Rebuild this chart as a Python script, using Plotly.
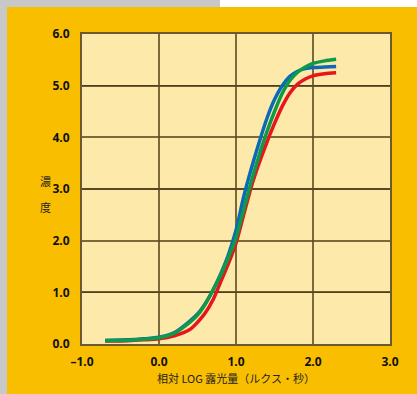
import plotly.graph_objects as go

# Data
blue_x = [-0.7, -0.4, -0.2, 0.0, 0.2, 0.35, 0.5, 0.6, 0.7, 0.8, 0.9, 1.0, 1.1, 1.2, 1.3, 1.4, 1.5, 1.6, 1.7, 1.8, 1.9, 2.0, 2.15, 2.3]
blue_y = [0.07, 0.08, 0.10, 0.13, 0.22, 0.38, 0.58, 0.78, 1.04, 1.35, 1.72, 2.2, 2.85, 3.4, 3.9, 4.36, 4.73, 5.0, 5.18, 5.28, 5.33, 5.35, 5.36, 5.37]

green_x = [-0.7, -0.4, -0.2, 0.0, 0.2, 0.35, 0.5, 0.6, 0.7, 0.8, 0.9, 1.0, 1.1, 1.2, 1.3, 1.4, 1.5, 1.6, 1.7, 1.8, 1.9, 2.0, 2.15, 2.3]
green_y = [0.07, 0.075, 0.09, 0.12, 0.21, 0.36, 0.56, 0.77, 1.04, 1.33, 1.67, 2.05, 2.6, 3.15, 3.65, 4.1, 4.5, 4.85, 5.1, 5.26, 5.36, 5.43, 5.48, 5.51]

red_x = [-0.7, -0.4, -0.2, 0.0, 0.2, 0.4, 0.5, 0.6, 0.7, 0.8, 0.9, 1.0, 1.1, 1.2, 1.3, 1.4, 1.5, 1.6, 1.7, 1.8, 1.9, 2.0, 2.15, 2.3]
red_y = [0.06, 0.065, 0.08, 0.10, 0.16, 0.28, 0.42, 0.6, 0.85, 1.2, 1.55, 1.95, 2.5, 3.05, 3.5, 3.9, 4.27, 4.6, 4.86, 5.03, 5.13, 5.19, 5.23, 5.25]

x_ticks = [-1.0, 0.0, 1.0, 2.0, 3.0]
x_labels = ["\u20131.0", "0.0", "1.0", "2.0", "3.0"]
y_ticks = [0, 1, 2, 3, 4, 5, 6]
y_labels = ["0.0", "1.0", "2.0", "3.0", "4.0", "5.0", "6.0"]
dark_grid_y = [1, 3, 5]

W, H = 417, 394
L, R, T, B = 82, 27, 34, 50
pw, ph = W - L - R, H - T - B

def px(xp):
    return (xp - L) / pw

def py(yp):
    return (H - B - yp) / ph

fig = go.Figure()
for xs, ys, col in [(red_x, red_y, "#e8141e"), (blue_x, blue_y, "#0a6ab8"), (green_x, green_y, "#0f9a48")]:
    fig.add_trace(go.Scatter(x=xs, y=ys, mode="lines",
                             line=dict(color=col, width=3.5, shape="spline", smoothing=0.7),
                             hoverinfo="skip", showlegend=False))

shapes = [
    dict(type="rect", xref="paper", yref="paper", x0=px(7), x1=px(W + 5), y0=py(7), y1=py(H + 5),
         fillcolor="#f9be00", line=dict(width=0), layer="below"),
    dict(type="rect", xref="paper", yref="paper", x0=px(220), x1=px(W + 5), y0=py(-5), y1=py(7),
         fillcolor="#ffffff", line=dict(width=0), layer="below"),
    dict(type="rect", xref="paper", yref="paper", x0=0, x1=1, y0=0, y1=1,
         fillcolor="#fde9a9", line=dict(width=0), layer="below"),
]
for gy in dark_grid_y:
    shapes.append(dict(type="line", xref="paper", yref="y", x0=0, x1=1, y0=gy, y1=gy,
                       line=dict(color="#1e1a10", width=1.3), layer="below"))

tickfont = dict(size=12, family="Open Sans", color="#111", weight="bold")

fig.update_layout(
    width=W, height=H,
    margin=dict(l=L, r=R, t=T, b=B),
    paper_bgcolor="#c8c8c8",
    plot_bgcolor="#fde9a9",
    shapes=shapes,
    font=dict(family="Open Sans, Noto Sans CJK JP, sans-serif", color="#111"),
    xaxis=dict(range=[-1, 3], tickvals=x_ticks, ticktext=x_labels,
               showgrid=True, gridcolor="rgba(90,72,30,0.8)", gridwidth=2,
               showline=True, linecolor="#6b5a30", linewidth=2, mirror=True,
               zeroline=False, ticks="outside", ticklen=6, tickcolor="rgba(0,0,0,0)",
               tickfont=tickfont,
               title=dict(text="相対 LOG 露光量（ルクス・秒）",
                          font=dict(size=11, family="Noto Sans CJK JP", color="#222"),
                          standoff=4)),
    yaxis=dict(range=[0, 6], tickvals=y_ticks, ticktext=y_labels,
               showgrid=True, gridcolor="rgba(90,72,30,0.8)", gridwidth=2,
               showline=True, linecolor="#6b5a30", linewidth=2, mirror=True,
               zeroline=False, ticks="outside", ticklen=8, tickcolor="rgba(0,0,0,0)",
               tickfont=tickfont),
    annotations=[
        dict(text="濃", xref="paper", yref="paper", x=px(38), y=py(181), showarrow=False,
             font=dict(size=11, family="Noto Sans CJK JP", color="#222")),
        dict(text="度", xref="paper", yref="paper", x=px(38), y=py(207), showarrow=False,
             font=dict(size=11, family="Noto Sans CJK JP", color="#222")),
    ],
)

fig.write_html("out.html", config={"displayModeBar": False},
               post_script="document.body.style.margin='0';")
